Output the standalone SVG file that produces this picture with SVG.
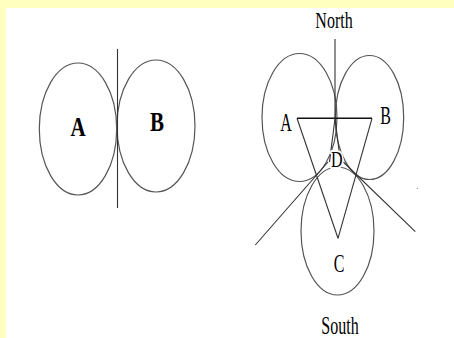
<svg xmlns="http://www.w3.org/2000/svg" width="454" height="338" viewBox="0 0 454 338">
<style>
.ell{fill:none;stroke:#555;stroke-width:1.2}
.ln{fill:none;stroke:#333;stroke-width:1.1}
.lb{font-family:"Liberation Serif","Times New Roman",serif;font-size:21px;font-weight:bold;fill:#000;text-anchor:middle}
.lr{font-family:"Liberation Serif","Times New Roman",serif;font-size:16px;fill:#000;text-anchor:middle}
.ko{paint-order:stroke;stroke:#fff;stroke-width:3;stroke-linejoin:round}
</style>
<rect x="0" y="0" width="454" height="338" fill="#FFFFC0"/>
<rect x="6" y="8" width="448" height="330" fill="#fff"/>

<g id="left-A">
<ellipse class="ell" cx="78" cy="129" rx="38.7" ry="66"/>
<text class="lb" transform="translate(78,136) scale(1,1.3)">A</text>
</g>
<g id="left-B">
<ellipse class="ell" cx="156" cy="126" rx="39" ry="66"/>
<text class="lb" transform="translate(157,130.5) scale(1,1.25)">B</text>
</g>

<g id="right-A">
<ellipse class="ell" cx="299.5" cy="117.5" rx="37.5" ry="64"/>
</g>
<g id="right-B">
<ellipse class="ell" cx="369.5" cy="117.5" rx="34.2" ry="62"/>
</g>
<g id="right-C">
<ellipse class="ell" cx="337.5" cy="231" rx="36.5" ry="64"/>
</g>

<g id="connectors">
<line class="ln" x1="117.5" y1="49" x2="117.5" y2="208"/>
<line class="ln" x1="335" y1="39" x2="335" y2="118.3"/>
<line x1="297" y1="118.3" x2="372" y2="118.3" stroke="#111" stroke-width="1.6"/>
<line class="ln" x1="297" y1="118.3" x2="338" y2="238.3"/>
<line class="ln" x1="372" y1="118.3" x2="338" y2="238.3"/>
<line class="ln" x1="335" y1="118.3" x2="329.5" y2="162"/>
<line class="ln" x1="335" y1="118.3" x2="340.5" y2="162"/>
<line class="ln" x1="328" y1="162" x2="255.3" y2="245"/>
<line class="ln" x1="343.3" y1="162" x2="415.3" y2="231.7"/>
</g>

<g id="label-A"><text class="lr" transform="translate(286,130.5) scale(1,1.6)">A</text></g>
<g id="label-B"><text class="lr" transform="translate(385.7,124) scale(1,1.55)">B</text></g>
<g id="label-C"><text class="lr" transform="translate(339,271.7) scale(1,1.6)">C</text></g>
<g id="label-D"><text class="lr ko" transform="translate(336.7,166.7) scale(1,1.4)">D</text></g>
<g id="label-North"><text class="lr" transform="translate(334,28.3) scale(1,1.45)">North</text></g>
<g id="label-South"><text class="lr" transform="translate(340,333.5) scale(1,1.55)">South</text></g>
<circle cx="417.3" cy="188.3" r="0.6" fill="#777"/>
</svg>
